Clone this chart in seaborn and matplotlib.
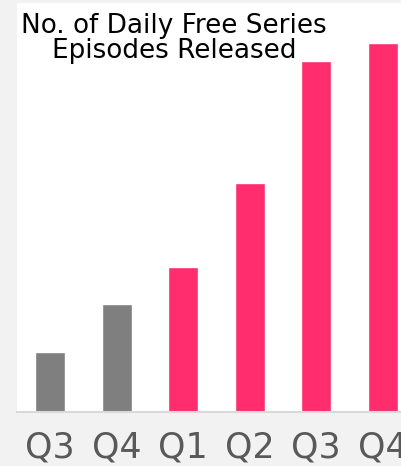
import matplotlib
matplotlib.use("Agg")
import matplotlib.pyplot as plt
import seaborn as sns
import pandas as pd

quarters = ["Q3", "Q4", "Q1", "Q2", "Q3", "Q4"]
values = [60, 108, 145, 229, 351, 369]
bar_colors = ["#7f7f7f", "#7f7f7f", "#ff2d6e", "#ff2d6e", "#ff2d6e", "#ff2d6e"]
title_lines = ["No. of Daily Free Series", "Episodes Released"]

sns.set_style("white")
plt.rcParams['font.family'] = ['DejaVu Sans']

df = pd.DataFrame({"pos": [str(i) for i in range(len(values))], "value": values})

fig = plt.figure(figsize=(4.02, 4.66), dpi=100, facecolor="#f2f2f2")
ax = fig.add_axes([17/402, 1 - 412/466, (416 - 17)/402, (412 - 3)/466])
ax.set_facecolor("white")
sns.barplot(data=df, x="pos", y="value", hue="pos", palette=bar_colors,
            width=0.45, legend=False, ax=ax, saturation=1)
ax.set_xlim(-0.5, len(values) - 0.5)
ax.set_ylim(0, 409)
ax.set_xticks(range(len(values)))
ax.set_xticklabels(quarters, fontsize=25, color="#595959")
ax.tick_params(axis="x", length=0, pad=13.5)
ax.set_yticks([])
ax.set_xlabel("")
ax.set_ylabel("")
for s in ["left", "right", "top"]:
    ax.spines[s].set_visible(False)
ax.spines["bottom"].set_color("#d9d9d9")
ax.spines["bottom"].set_linewidth(1.5)

fig.text(174/402, 1 - 33/466, title_lines[0], ha="center", va="baseline",
         fontsize=18.9, color="black")
fig.text(174/402, 1 - 58/466, title_lines[1], ha="center", va="baseline",
         fontsize=18.9, color="black")

fig.savefig("out.png", dpi=100, facecolor=fig.get_facecolor())
